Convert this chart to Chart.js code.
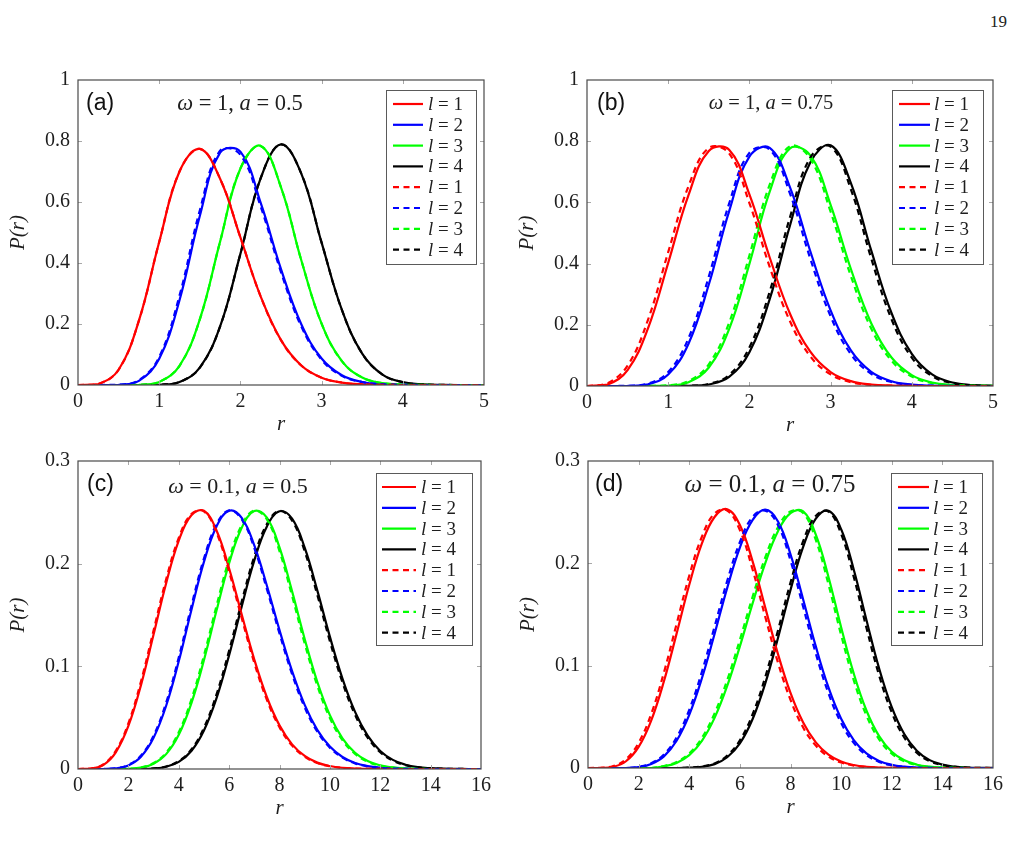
<!DOCTYPE html>
<html>
<head>
<meta charset="utf-8">
<title>P(r) for l = 1..4</title>
<script src="https://cdn.jsdelivr.net/npm/chart.js@4.4.1/dist/chart.umd.min.js"></script>
<style>
  html, body { margin: 0; padding: 0; background: #fff; }
  body { position: relative; width: 1016px; height: 845px; overflow: hidden; }
  canvas { position: absolute; }
  #pageNo { position: absolute; left: 990px; top: 12px; font: 17px "Liberation Serif", serif; color: #222; }
</style>
</head>
<body>
<div id="pageNo">19</div>
<canvas id="panelA"></canvas>
<canvas id="panelB"></canvas>
<canvas id="panelC"></canvas>
<canvas id="panelD"></canvas>
<script>
// ---- data ----
const lValues = [1, 2, 3, 4];
const panelTags = ["(a)", "(b)", "(c)", "(d)"];
const omegaValues = ["1", "1", "0.1", "0.1"];
const aValues = ["0.5", "0.75", "0.5", "0.75"];

const xTicksAB = [0, 1, 2, 3, 4, 5];
const yTicksAB = [0, 0.2, 0.4, 0.6, 0.8, 1];
const xTicksCD = [0, 2, 4, 6, 8, 10, 12, 14, 16];
const yTicksCD = [0, 0.1, 0.2, 0.3];

const rAB = [0, 0.25, 0.5, 0.75, 1, 1.25, 1.5, 1.75, 2, 2.25, 2.5, 2.75, 3, 3.25, 3.5, 3.75, 4, 4.25, 4.5, 4.75, 5];
const rCD = [0, 0.5, 1, 1.5, 2, 2.5, 3, 3.5, 4, 4.5, 5, 5.5, 6, 6.5, 7, 7.5, 8, 8.5, 9, 9.5, 10, 10.5, 11, 11.5, 12, 12.5, 13, 13.5, 14, 14.5, 15, 15.5, 16];

// (a) omega = 1, a = 0.5
const aRed    = [0, 0.003, 0.05, 0.211, 0.469, 0.70, 0.774, 0.676, 0.484, 0.29, 0.147, 0.064, 0.024, 0.008, 0.002, 0.0005, 0, 0, 0, 0, 0];
const aBlue   = [0, 0, 0.0007, 0.0136, 0.086, 0.278, 0.554, 0.762, 0.765, 0.597, 0.38, 0.199, 0.087, 0.032, 0.01, 0.0026, 0.0006, 0, 0, 0, 0];
const aGreen  = [0, 0, 0, 0.0007, 0.0102, 0.063, 0.215, 0.47, 0.71, 0.784, 0.648, 0.409, 0.201, 0.078, 0.0245, 0.0062, 0.0013, 0.0002, 0, 0, 0];
const aBlack  = [0, 0, 0, 0, 0.0009, 0.01, 0.057, 0.192, 0.43, 0.678, 0.789, 0.693, 0.467, 0.246, 0.103, 0.034, 0.0094, 0.0021, 0.0004, 0, 0];
const aRedD   = [0, 0.003, 0.05, 0.211, 0.469, 0.70, 0.774, 0.676, 0.484, 0.29, 0.147, 0.064, 0.024, 0.008, 0.002, 0.0005, 0, 0, 0, 0, 0];
const aBlueD  = [0, 0, 0.0009, 0.016, 0.092, 0.293, 0.572, 0.768, 0.755, 0.585, 0.37, 0.192, 0.083, 0.03, 0.0093, 0.0024, 0.0005, 0, 0, 0, 0];
const aGreenD = [0, 0, 0, 0.0007, 0.0102, 0.063, 0.215, 0.47, 0.71, 0.784, 0.648, 0.409, 0.201, 0.078, 0.0245, 0.0062, 0.0013, 0.0002, 0, 0, 0];
const aBlackD = [0, 0, 0, 0, 0.0009, 0.01, 0.057, 0.192, 0.43, 0.678, 0.789, 0.693, 0.467, 0.246, 0.103, 0.034, 0.0094, 0.0021, 0.0004, 0, 0];

// (b) omega = 1, a = 0.75
const bRed    = [0, 0.0045, 0.052, 0.1875, 0.4025, 0.624, 0.768, 0.772, 0.626, 0.42, 0.236, 0.112, 0.0456, 0.0159, 0.0048, 0.0013, 0.0003, 0, 0, 0, 0];
const bBlue   = [0, 0, 0.0003, 0.0054, 0.0374, 0.1383, 0.3316, 0.5708, 0.7496, 0.7784, 0.649, 0.4403, 0.2472, 0.1161, 0.046, 0.0155, 0.0045, 0.0011, 0.0002, 0, 0];
const bGreen  = [0, 0, 0, 0, 0.0014, 0.0126, 0.0605, 0.186, 0.3992, 0.635, 0.7767, 0.7538, 0.5919, 0.3824, 0.2053, 0.093, 0.0357, 0.0116, 0.0033, 0.0008, 0.0002];
const bBlack  = [0, 0, 0, 0, 0, 0.0005, 0.0049, 0.0295, 0.1106, 0.2839, 0.5247, 0.7307, 0.7865, 0.6631, 0.4431, 0.2385, 0.1048, 0.0378, 0.0113, 0.0028, 0.0006];
const bRedD   = [0, 0.0087, 0.0665, 0.2155, 0.4374, 0.653, 0.778, 0.76, 0.598, 0.389, 0.2114, 0.0971, 0.0379, 0.0126, 0.0036, 0.0009, 0.0002, 0, 0, 0, 0];
const bBlueD  = [0, 0, 0.0004, 0.0076, 0.0454, 0.1559, 0.3576, 0.5958, 0.7621, 0.7724, 0.6287, 0.4162, 0.2278, 0.104, 0.04, 0.013, 0.0036, 0.0009, 0.0002, 0, 0];
const bGreenD = [0, 0, 0, 0, 0.0022, 0.0161, 0.0709, 0.2063, 0.4262, 0.6577, 0.7837, 0.7428, 0.5696, 0.3592, 0.1879, 0.0828, 0.0308, 0.0096, 0.0025, 0.0006, 0.0001];
const bBlackD = [0, 0, 0, 0, 0, 0.0007, 0.0066, 0.0358, 0.1259, 0.3087, 0.5515, 0.7464, 0.7825, 0.6425, 0.4176, 0.2182, 0.0928, 0.0322, 0.0092, 0.0022, 0.0005];

// (c) omega = 0.1, a = 0.5
const cRed    = [0, 0.0003, 0.0038, 0.0162, 0.0419, 0.0817, 0.1309, 0.181, 0.2224, 0.2471, 0.2515, 0.2323, 0.1953, 0.1505, 0.1066, 0.0699, 0.0425, 0.024, 0.0127, 0.0062, 0.0029, 0.0012, 0.0005, 0.0002, 0.0001, 0, 0, 0, 0, 0, 0, 0, 0];
const cBlue   = [0, 0, 0, 0.0006, 0.0035, 0.012, 0.0304, 0.0616, 0.1049, 0.1547, 0.2017, 0.2363, 0.2516, 0.2446, 0.2178, 0.1785, 0.1353, 0.0953, 0.0624, 0.0381, 0.0218, 0.0117, 0.0059, 0.0028, 0.0012, 0.0005, 0.0002, 0, 0, 0, 0, 0, 0];
const cGreen  = [0, 0, 0, 0, 0.0002, 0.0013, 0.0051, 0.0145, 0.0333, 0.064, 0.106, 0.1543, 0.2004, 0.235, 0.2512, 0.2449, 0.2158, 0.173, 0.1267, 0.085, 0.0525, 0.0299, 0.0158, 0.0077, 0.0035, 0.0015, 0.0006, 0.0002, 0, 0, 0, 0, 0];
const cBlack  = [0, 0, 0, 0, 0, 0, 0.0005, 0.0022, 0.0069, 0.0175, 0.0375, 0.069, 0.1109, 0.1584, 0.2032, 0.2363, 0.251, 0.2438, 0.2156, 0.174, 0.1289, 0.0881, 0.0556, 0.0325, 0.0176, 0.0089, 0.0042, 0.0018, 0.0008, 0.0003, 0.0001, 0, 0];
const cRedD   = [0, 0.0005, 0.0044, 0.0177, 0.0445, 0.0853, 0.1349, 0.1847, 0.225, 0.2483, 0.2509, 0.2301, 0.192, 0.147, 0.1034, 0.0673, 0.0407, 0.0228, 0.012, 0.0058, 0.0027, 0.0011, 0.0005, 0.0002, 0.0001, 0, 0, 0, 0, 0, 0, 0, 0];
const cBlueD  = [0, 0, 0, 0.0007, 0.004, 0.0131, 0.0324, 0.0646, 0.1086, 0.1586, 0.205, 0.2383, 0.2519, 0.2432, 0.2152, 0.1752, 0.132, 0.0924, 0.0601, 0.0365, 0.0207, 0.0111, 0.0055, 0.0026, 0.0011, 0.0005, 0.0002, 0, 0, 0, 0, 0, 0];
const cGreenD = [0, 0, 0, 0, 0.0003, 0.0015, 0.0058, 0.0159, 0.0358, 0.0676, 0.1105, 0.159, 0.2044, 0.2375, 0.2517, 0.2431, 0.2122, 0.1685, 0.1223, 0.0813, 0.0497, 0.0281, 0.0147, 0.0071, 0.0032, 0.0013, 0.0005, 0.0002, 0, 0, 0, 0, 0];
const cBlackD = [0, 0, 0, 0, 0, 0, 0.0006, 0.0025, 0.0077, 0.019, 0.0401, 0.0727, 0.1154, 0.163, 0.2071, 0.2387, 0.2514, 0.242, 0.2121, 0.1697, 0.1246, 0.0844, 0.0528, 0.0306, 0.0164, 0.0082, 0.0038, 0.0016, 0.0007, 0.0003, 0.0001, 0, 0];

// (d) omega = 0.1, a = 0.75
const dRed    = [0, 0.0001, 0.0012, 0.0066, 0.0206, 0.0466, 0.0848, 0.1313, 0.179, 0.2194, 0.2453, 0.2529, 0.2375, 0.2022, 0.157, 0.1118, 0.0733, 0.0444, 0.025, 0.013, 0.0063, 0.0029, 0.0012, 0.0005, 0.0002, 0, 0, 0, 0, 0, 0, 0, 0];
const dBlue   = [0, 0, 0, 0, 0.0009, 0.0039, 0.0114, 0.0266, 0.0519, 0.0877, 0.131, 0.176, 0.2154, 0.2423, 0.2524, 0.2412, 0.2089, 0.1647, 0.1188, 0.0787, 0.0481, 0.0272, 0.0142, 0.0069, 0.0031, 0.0013, 0.0005, 0.0002, 0, 0, 0, 0, 0];
const dGreen  = [0, 0, 0, 0, 0, 0, 0.0016, 0.005, 0.0126, 0.0266, 0.049, 0.0803, 0.1189, 0.1606, 0.2, 0.2311, 0.249, 0.2508, 0.228, 0.1867, 0.1376, 0.0922, 0.0562, 0.0312, 0.0159, 0.0075, 0.0032, 0.0013, 0.0005, 0.0002, 0, 0, 0];
const dBlack  = [0, 0, 0, 0, 0, 0, 0, 0, 0.0003, 0.0012, 0.0038, 0.0105, 0.024, 0.0476, 0.0824, 0.1265, 0.174, 0.216, 0.2436, 0.2514, 0.2334, 0.1938, 0.1447, 0.0974, 0.0595, 0.033, 0.0167, 0.0077, 0.0033, 0.0013, 0.0005, 0.0002, 0.0001];
const dRedD   = [0, 0.0002, 0.0019, 0.0085, 0.0246, 0.053, 0.0933, 0.1407, 0.1878, 0.226, 0.2487, 0.2515, 0.2324, 0.1942, 0.148, 0.1034, 0.0666, 0.0396, 0.0219, 0.0111, 0.0053, 0.0024, 0.0009, 0.0004, 0.0001, 0, 0, 0, 0, 0, 0, 0, 0];
const dBlueD  = [0, 0, 0, 0, 0.0012, 0.0047, 0.0132, 0.0298, 0.0568, 0.094, 0.1381, 0.1828, 0.2207, 0.2453, 0.2515, 0.2377, 0.2028, 0.1575, 0.1119, 0.073, 0.044, 0.0245, 0.0126, 0.006, 0.0027, 0.0011, 0.0004, 0.0001, 0, 0, 0, 0, 0];
const dGreenD = [0, 0, 0, 0, 0, 0, 0.002, 0.0059, 0.0143, 0.0295, 0.0533, 0.0859, 0.1253, 0.1671, 0.2056, 0.235, 0.2506, 0.2491, 0.2229, 0.1795, 0.13, 0.0857, 0.0513, 0.028, 0.014, 0.0065, 0.0027, 0.001, 0.0004, 0.0001, 0, 0, 0];
const dBlackD = [0, 0, 0, 0, 0, 0, 0, 0, 0.0005, 0.0015, 0.0045, 0.0121, 0.027, 0.0523, 0.0887, 0.1338, 0.1812, 0.2216, 0.2464, 0.2506, 0.2288, 0.1867, 0.137, 0.0906, 0.0543, 0.0296, 0.0147, 0.0066, 0.0028, 0.0011, 0.0004, 0.0001, 0];

// ---- look ----
const LINE_COLORS = ["#ff0000", "#0000ff", "#00ff00", "#000000"];
const DASH = [6, 4.5];
const SERIF = '"Liberation Serif", "DejaVu Serif", serif';
const SANS = '"Liberation Sans", Arial, sans-serif';
const INK = "#1e1e1e";

const AXIS_W = 72;
const AXIS_H = 52;
const PAD_T = 12;
const PAD_R = 14;

const PANELS = [
  { id: "panelA", box: [78, 72, 484, 385], r: rAB, xMax: 5, yMax: 1, xTicks: xTicksAB, yTicks: yTicksAB,
    solid: [aRed, aBlue, aGreen, aBlack], dashed: [aRedD, aBlueD, aGreenD, aBlackD],
    tag: [8, 30], param: [162, 30, 22.5], legend: [8, 10, 90, 174, 7, 30, 42] },
  { id: "panelB", box: [587, 72, 993, 386], r: rAB, xMax: 5, yMax: 1, xTicks: xTicksAB, yTicks: yTicksAB,
    solid: [bRed, bBlue, bGreen, bBlack], dashed: [bRedD, bBlueD, bGreenD, bBlackD],
    tag: [10, 30], param: [184, 29, 20.5], legend: [10, 10, 91, 174, 7, 31, 42] },
  { id: "panelC", box: [78, 453, 482, 769], r: rCD, xMax: 16, yMax: 0.3, xTicks: xTicksCD, yTicks: yTicksCD,
    solid: [cRed, cBlue, cGreen, cBlack], dashed: [cRedD, cBlueD, cGreenD, cBlackD],
    tag: [9, 30], param: [160, 32, 22], legend: [9, 12, 96, 172, 6, 34, 45] },
  { id: "panelD", box: [588, 453, 994, 768], r: rCD, xMax: 16, yMax: 0.3, xTicks: xTicksCD, yTicks: yTicksCD,
    solid: [dRed, dBlue, dGreen, dBlack], dashed: [dRedD, dBlueD, dGreenD, dBlackD],
    tag: [7, 30], param: [182, 31, 25], legend: [11, 12, 91, 172, 7, 31, 42] },
];

function drawRuns(ctx, runs, x, y, size, align) {
  const widths = runs.map(([text, italic]) => {
    ctx.font = `${italic ? "italic " : ""}${size}px ${SERIF}`;
    return ctx.measureText(text).width;
  });
  const total = widths.reduce((s, w) => s + w, 0);
  let cx = align === "center" ? x - total / 2 : x;
  runs.forEach(([text, italic], i) => {
    ctx.font = `${italic ? "italic " : ""}${size}px ${SERIF}`;
    ctx.fillText(text, cx, y);
    cx += widths[i];
  });
}

const panelDecor = {
  id: "panelDecor",
  afterDatasetsDraw(chart, args, opts) {
    const { ctx, chartArea: area, scales } = chart;
    const xs = scales.x;
    const ys = scales.y;
    ctx.save();

    // inner tick marks on all four sides
    ctx.strokeStyle = "#a8a8a8";
    ctx.lineWidth = 1;
    ctx.beginPath();
    xs.ticks.forEach((t) => {
      if (t.value <= xs.min || t.value >= xs.max) return;
      const px = Math.round(xs.getPixelForValue(t.value)) + 0.5;
      ctx.moveTo(px, area.bottom); ctx.lineTo(px, area.bottom - 4);
      ctx.moveTo(px, area.top); ctx.lineTo(px, area.top + 4);
    });
    ys.ticks.forEach((t) => {
      if (t.value <= ys.min || t.value >= ys.max - 1e-9) return;
      const py = Math.round(ys.getPixelForValue(t.value)) + 0.5;
      ctx.moveTo(area.left, py); ctx.lineTo(area.left + 4, py);
      ctx.moveTo(area.right, py); ctx.lineTo(area.right - 4, py);
    });
    ctx.stroke();

    // frame
    ctx.strokeStyle = "#4a4a4a";
    ctx.lineWidth = 1.2;
    ctx.strokeRect(area.left, area.top, area.right - area.left, area.bottom - area.top);

    // panel tag
    ctx.fillStyle = "#111";
    ctx.textBaseline = "alphabetic";
    ctx.textAlign = "left";
    ctx.font = `23px ${SANS}`;
    ctx.fillText(opts.tag, area.left + opts.tagPos[0], area.top + opts.tagPos[1]);

    // parameters
    ctx.fillStyle = INK;
    drawRuns(ctx, [["ω", true], [` = ${opts.omega}, `, false], ["a", true], [` = ${opts.a}`, false]],
      area.left + opts.paramPos[0], area.top + opts.paramPos[1], opts.paramPos[2], "center");

    // legend
    const [mr, mt, w, h, lineX, lineLen, textX] = opts.legend;
    const left = area.right - mr - w;
    const top = area.top + mt;
    ctx.fillStyle = "#fff";
    ctx.fillRect(left, top, w, h);
    ctx.strokeStyle = "#5a5a5a";
    ctx.lineWidth = 1;
    ctx.strokeRect(Math.round(left) + 0.5, Math.round(top) + 0.5, w, h);
    const rowH = 20.8;
    chart.data.datasets.forEach((ds, i) => {
      const cy = top + 14 + i * rowH;
      ctx.save();
      ctx.strokeStyle = ds.borderColor;
      ctx.lineWidth = ds.borderWidth;
      ctx.setLineDash(ds.borderDash || []);
      ctx.beginPath();
      ctx.moveTo(left + lineX, cy);
      ctx.lineTo(left + lineX + lineLen, cy);
      ctx.stroke();
      ctx.restore();
      ctx.fillStyle = INK;
      ctx.textBaseline = "middle";
      drawRuns(ctx, [["l", true], [` = ${ds.lValue}`, false]], left + textX, cy + 1, 19, "left");
    });
    ctx.restore();
  },
};

function buildDatasets(r, solid, dashed) {
  const sets = [];
  [solid, dashed].forEach((group, g) => {
    group.forEach((values, i) => {
      sets.push({
        label: `l = ${lValues[i]}`,
        lValue: lValues[i],
        data: values.map((v, k) => ({ x: r[k], y: v })),
        borderColor: LINE_COLORS[i],
        borderWidth: 2.2,
        borderDash: g === 1 ? DASH : [],
        pointRadius: 0,
        fill: false,
        tension: 0.4,
        order: g === 1 ? 0 : 1,
      });
    });
  });
  return sets;
}

function renderPanel(panel, index) {
  const [l, t, r, b] = panel.box;
  const canvas = document.getElementById(panel.id);
  canvas.width = r - l + AXIS_W + PAD_R;
  canvas.height = b - t + PAD_T + AXIS_H;
  canvas.style.left = `${l - AXIS_W}px`;
  canvas.style.top = `${t - PAD_T}px`;

  const tickFont = { family: SERIF, size: 20 };
  const titleFont = { family: SERIF, size: 21, style: "italic" };

  new Chart(canvas, {
    type: "line",
    data: { datasets: buildDatasets(panel.r, panel.solid, panel.dashed) },
    options: {
      responsive: false,
      animation: false,
      devicePixelRatio: 1,
      layout: { padding: { top: PAD_T, right: PAD_R, left: 0, bottom: 0 } },
      plugins: {
        legend: { display: false },
        tooltip: { enabled: false },
        panelDecor: {
          tag: panelTags[index],
          tagPos: panel.tag,
          omega: omegaValues[index],
          a: aValues[index],
          paramPos: panel.param,
          legend: panel.legend,
        },
      },
      scales: {
        x: {
          type: "linear",
          min: 0,
          max: panel.xMax,
          afterBuildTicks(scale) {
            scale.ticks = panel.xTicks.map((v) => ({ value: v }));
          },
          ticks: { color: INK, font: tickFont, padding: 5, maxRotation: 0, callback: (v) => String(v) },
          grid: { display: false, drawTicks: false },
          border: { display: false },
          title: { display: true, text: "r", color: INK, font: titleFont, padding: 0 },
          afterFit(scale) { scale.height = AXIS_H; },
        },
        y: {
          type: "linear",
          min: 0,
          max: panel.yMax,
          afterBuildTicks(scale) {
            scale.ticks = panel.yTicks.map((v) => ({ value: v }));
          },
          ticks: { color: INK, font: tickFont, padding: 8, callback: (v) => String(v) },
          grid: { display: false, drawTicks: false },
          border: { display: false },
          title: { display: true, text: "P(r)", color: INK, font: titleFont, padding: 0 },
          afterFit(scale) { scale.width = AXIS_W; },
        },
      },
    },
    plugins: [panelDecor],
  });
}

PANELS.forEach(renderPanel);
</script>
</body>
</html>
